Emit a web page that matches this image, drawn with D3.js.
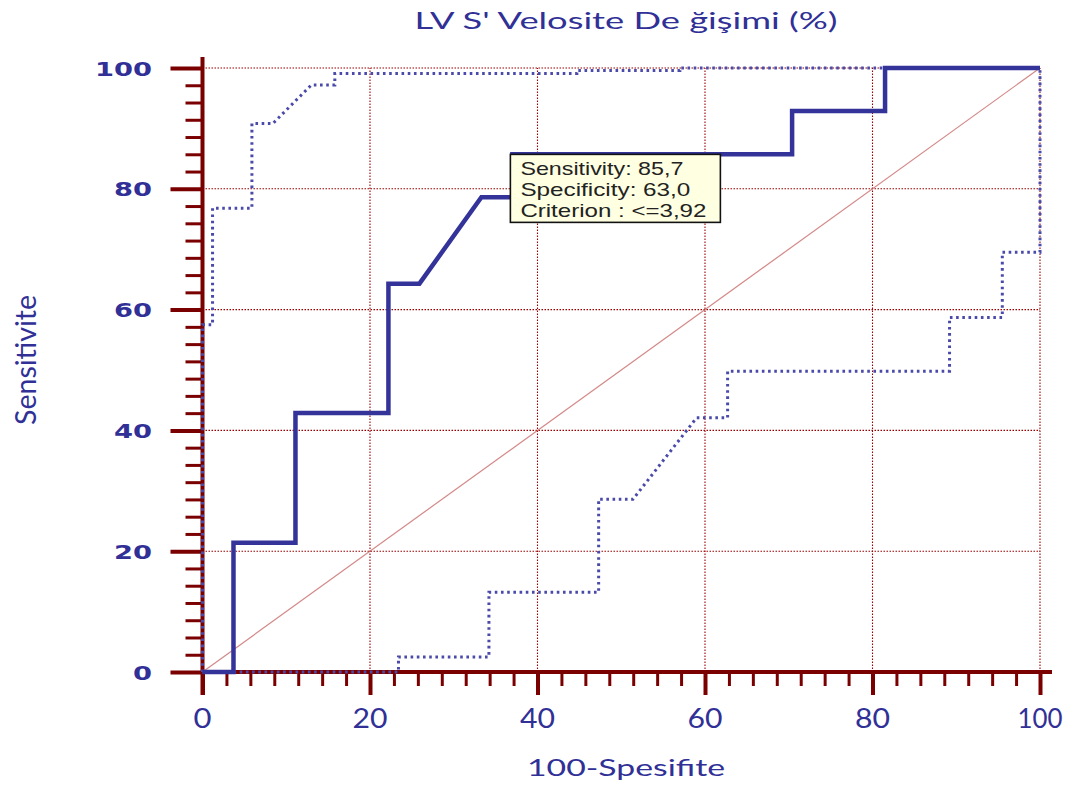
<!DOCTYPE html>
<html>
<head>
<meta charset="utf-8">
<script src="https://cdn.jsdelivr.net/npm/d3@7"></script>
<style>
  body { margin: 0; background: #fff; }
  svg { display: block; }
</style>
</head>
<body>
<svg id="chart" width="1084" height="787"></svg>
<script>
// ROC curve (100 - specificity, sensitivity)
const rocX = [0, 3.7, 3.7, 11.1, 11.1, 22.2, 22.2, 25.9, 33.3, 37.0, 37.0, 70.4, 70.4, 81.5, 81.5, 100];
const rocY = [0, 0, 21.4, 21.4, 42.9, 42.9, 64.3, 64.3, 78.6, 78.6, 85.7, 85.7, 92.9, 92.9, 100, 100];

// Upper confidence bound
const upperX = [0, 0, 1.2, 1.2, 5.9, 5.9, 8.4, 13.0, 15.8, 15.8, 44.7, 44.7, 57.0, 57.0, 100];
const upperY = [0, 57.5, 57.5, 76.8, 76.8, 90.8, 90.8, 97.2, 97.2, 99.1, 99.1, 99.6, 99.6, 100, 100];

// Lower confidence bound
const lowerX = [0, 23.4, 23.4, 34.2, 34.2, 47.3, 47.3, 51.4, 59.0, 62.7, 62.7, 89.2, 89.2, 95.5, 95.5, 100, 100];
const lowerY = [0, 0, 2.5, 2.5, 13.2, 13.2, 28.6, 28.6, 42.1, 42.1, 49.8, 49.8, 58.7, 58.7, 69.5, 69.5, 100];

// Reference diagonal
const diagX = [0, 100];
const diagY = [0, 100];

// Axis ticks
const majorTicks = [0, 20, 40, 60, 80, 100];
const minorTicks = d3.range(0, 100.001, 20 / 7).filter(v => Math.abs(v / 20 - Math.round(v / 20)) > 1e-6);

// Optimal criterion point
const optimal = { x: 37.0, y: 85.7 };
const tooltipLines = ["Sensitivity: 85,7", "Specificity: 63,0", "Criterion : <=3,92"];

const titleText = "LV S' Velosite De ğişimi (%)";
const xTitle = "100-Spesifite";
const yTitle = "Sensitivite";

const svg = d3.select("#chart");
const axisColor = "#7a0000";
const textBlue = "#303096";

const x = d3.scaleLinear().domain([0, 100]).range([202.5, 1040]);
const y = d3.scaleLinear().domain([0, 100]).range([672, 68]);

const fit = (sel, len) => sel.attr("textLength", len).attr("lengthAdjust", "spacingAndGlyphs");

// Grid
const grid = svg.append("g")
  .attr("stroke", "#990000")
  .attr("stroke-width", 1.1)
  .attr("stroke-dasharray", "1.5,1.5");
grid.selectAll("line.v").data(majorTicks.filter(d => d > 0)).join("line")
  .attr("class", "v")
  .attr("x1", d => x(d)).attr("x2", d => x(d))
  .attr("y1", y(0)).attr("y2", y(100));
grid.selectAll("line.h").data(majorTicks.filter(d => d > 0)).join("line")
  .attr("class", "h")
  .attr("x1", x(0)).attr("x2", x(100))
  .attr("y1", d => y(d)).attr("y2", d => y(d));

// Axes: tick marks
function styleTicks(g, w) {
  g.select(".domain").remove();
  g.selectAll(".tick line").attr("stroke", axisColor).attr("stroke-width", w);
  g.selectAll(".tick text").remove();
}
svg.append("g").attr("transform", `translate(${x(0)},0)`)
  .call(d3.axisLeft(y).tickValues(minorTicks).tickSize(17).tickSizeOuter(0))
  .call(g => styleTicks(g, 3));
svg.append("g").attr("transform", `translate(${x(0)},0)`)
  .call(d3.axisLeft(y).tickValues(majorTicks).tickSize(32).tickSizeOuter(0))
  .call(g => styleTicks(g, 4));
svg.append("g").attr("transform", `translate(0,${y(0)})`)
  .call(d3.axisBottom(x).tickValues(minorTicks).tickSize(14).tickSizeOuter(0))
  .call(g => styleTicks(g, 3));
svg.append("g").attr("transform", `translate(0,${y(0)})`)
  .call(d3.axisBottom(x).tickValues(majorTicks).tickSize(23).tickSizeOuter(0))
  .call(g => styleTicks(g, 4));

// Axis lines
svg.append("line")
  .attr("x1", x(0)).attr("x2", x(0))
  .attr("y1", 57).attr("y2", y(0) + 23)
  .attr("stroke", axisColor).attr("stroke-width", 4);
svg.append("line")
  .attr("x1", x(0)).attr("x2", 1052)
  .attr("y1", y(0)).attr("y2", y(0))
  .attr("stroke", axisColor).attr("stroke-width", 4);

// Tick labels
svg.append("g").selectAll("text").data(majorTicks).join("text")
  .attr("x", 152)
  .attr("y", d => y(d) + 7.5)
  .attr("text-anchor", "end")
  .attr("font-family", "DejaVu Sans")
  .attr("font-weight", "bold")
  .attr("font-size", 20)
  .attr("fill", textBlue)
  .text(d => d)
  .each(function (d) { fit(d3.select(this), String(d).length * 19); });

svg.append("g").selectAll("text").data(majorTicks).join("text")
  .attr("x", d => x(d))
  .attr("y", 728)
  .attr("text-anchor", "middle")
  .attr("font-family", "Lato")
  .attr("font-size", 26)
  .attr("fill", textBlue)
  .text(d => d)
  .each(function (d) { fit(d3.select(this), [18, 35, 45][String(d).length - 1]); });

// Titles
fit(svg.append("text")
  .attr("x", 626).attr("y", 29)
  .attr("text-anchor", "middle")
  .attr("font-family", "Lato")
  .attr("font-size", 23)
  .attr("fill", textBlue)
  .text(titleText), 423);

fit(svg.append("text")
  .attr("x", 626).attr("y", 776)
  .attr("text-anchor", "middle")
  .attr("font-family", "Lato")
  .attr("font-size", 24)
  .attr("fill", textBlue)
  .text(xTitle), 198);

fit(svg.append("text")
  .attr("transform", "translate(36,360) rotate(-90) scale(1,1.35)")
  .attr("text-anchor", "middle")
  .attr("font-family", "Lato")
  .attr("font-size", 22)
  .attr("fill", textBlue)
  .text(yTitle), 130);

// Diagonal reference line
const line = d3.line().x(d => x(d[0])).y(d => y(d[1]));
svg.append("path")
  .datum(d3.zip(diagX, diagY))
  .attr("d", line)
  .attr("fill", "none")
  .attr("stroke", "#c86a6a")
  .attr("stroke-opacity", 0.8)
  .attr("stroke-width", 1.2);

// Confidence bounds
[[upperX, upperY], [lowerX, lowerY]].forEach(([xs, ys]) => {
  svg.append("path")
    .datum(d3.zip(xs, ys))
    .attr("d", line)
    .attr("fill", "none")
    .attr("stroke", "#4a4aaa")
    .attr("stroke-width", 3)
    .attr("stroke-dasharray", "2.6,3.6");
});

// ROC curve
svg.append("path")
  .datum(d3.zip(rocX, rocY))
  .attr("d", line)
  .attr("fill", "none")
  .attr("stroke", "#333399")
  .attr("stroke-width", 4.5)
  .attr("stroke-linejoin", "miter");

// Criterion tooltip
const tip = svg.append("g").attr("transform", `translate(${x(optimal.x) - 2},${y(optimal.y)})`);
tip.append("rect")
  .attr("width", 210).attr("height", 68)
  .attr("fill", "#ffffe1")
  .attr("stroke", "#111")
  .attr("stroke-width", 1.6);
tip.selectAll("text").data(tooltipLines).join("text")
  .attr("x", 10)
  .attr("y", (d, i) => 21 + i * 21)
  .attr("font-family", "Liberation Sans")
  .attr("font-size", 19)
  .attr("fill", "#222")
  .text(d => d)
  .each(function (d, i) { fit(d3.select(this), [163, 170, 186][i]); });
</script>
</body>
</html>
